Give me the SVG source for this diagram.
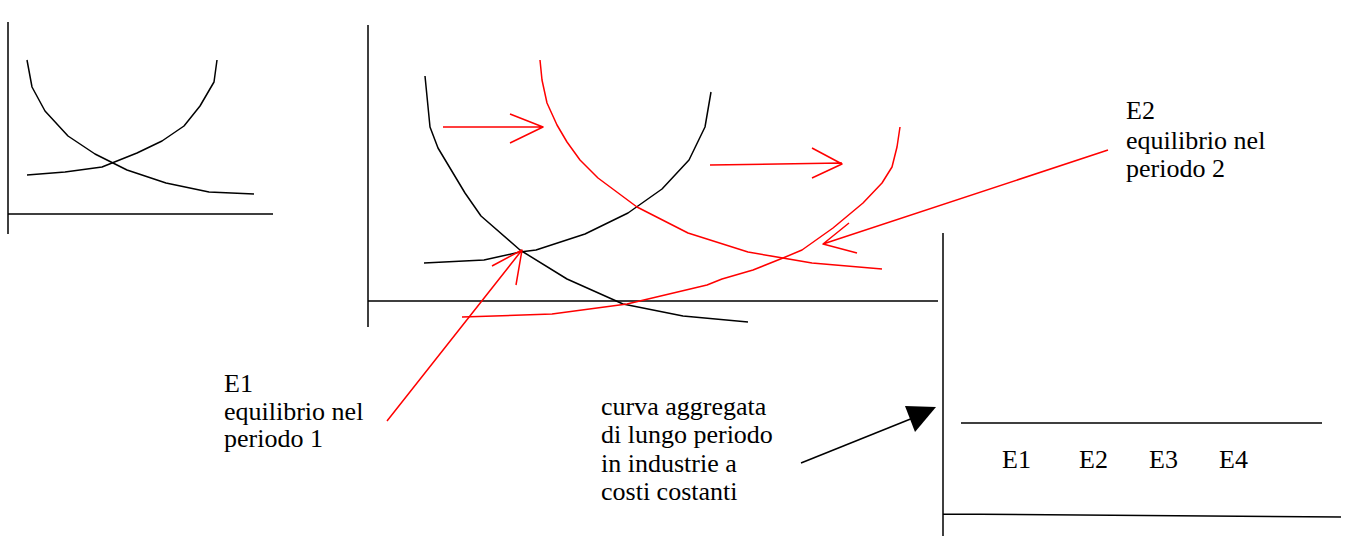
<svg xmlns="http://www.w3.org/2000/svg" width="1346" height="536" viewBox="0 0 1346 536">
<style>
.k{fill:none;stroke:#000;stroke-width:1.5;stroke-linejoin:round}
.r{fill:none;stroke:#ff0000;stroke-width:1.5;stroke-linejoin:round}
text{font-family:'Liberation Serif','Times New Roman',Times,'DejaVu Serif',serif;font-size:26px;fill:#000}
</style>
<rect width="1346" height="536" fill="#fff"/>
<g id="small-chart">
<path class="k" d="M8,22 V234 M8,214 H273"/>
<path class="k" d="M27,60 L32,87 L45,111 L68,136 L95,154 L127,170 L166,183 L209,192 L254,194"/>
<path class="k" d="M27,175 L65,172 L102,167 L137,153 L162,141 L184,126 L200,106 L214,82 L217,60"/>
</g>
<g id="main-chart">
<path class="k" d="M368,25 V327 M368,301 H938"/>
<path class="k" d="M425,76 L430,127 L438,148 L465,193 L481,216 L520,250 L567,279 L623,304 L683,316 L748,322"/>
<path class="k" d="M424,263 L484,260 L520,252 L536,250 L585,234 L628,213 L662,189 L689,160 L705,127 L711,92"/>
<path class="r" d="M540,60 L542,80 L547,103 L557,125 L567,142 L580,160 L598,178 L637,207 L688,233 L748,252 L812,263 L882,269"/>
<path class="r" d="M462,317 L552,314 L627,304 L707,285 L722,279 L753,270 L783,258 L802,250 L833,228 L863,203 L882,183 L892,167 L897,147 L900,127"/>
</g>
<g id="right-chart">
<path class="k" d="M943,233 V536 M943,514 L1341,517 M961,423 H1322"/>
<text x="1002" y="468">E1</text>
<text x="1079" y="468">E2</text>
<text x="1149" y="468">E3</text>
<text x="1219" y="468">E4</text>
</g>
<g id="label-e1">
<text x="224" y="392">E1</text>
<text x="224" y="420">equilibrio nel</text>
<text x="224" y="447">periodo 1</text>
</g>
<g id="label-e2">
<text x="1126" y="119">E2</text>
<text x="1126" y="149">equilibrio nel</text>
<text x="1126" y="177">periodo 2</text>
</g>
<g id="label-curva">
<text x="601" y="415">curva aggregata</text>
<text x="601" y="443">di lungo periodo</text>
<text x="601" y="472">in industrie a</text>
<text x="601" y="500">costi costanti</text>
</g>
<g id="connectors">
<path class="r" d="M443,127 H543 M510,114 L543,127 L510,143"/>
<path class="r" d="M710,165 L842,163 M812,148 L842,164 L812,178"/>
<path class="r" d="M1108,150 L823,244 M849,223 L823,244 L857,253"/>
<path class="r" d="M387,421 L522,250 M492,266 L522,250 L516,285"/>
<path class="k" d="M801,463 L918,416"/>
<polygon points="905,406 936,407 915,432" fill="#000"/>
</g>
</svg>
